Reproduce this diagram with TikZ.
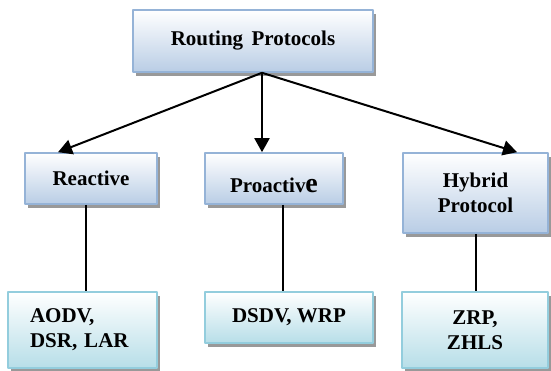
\documentclass[tikz,border=0pt]{standalone}
\usepackage{fontspec}
\setmainfont{Liberation Serif}
\usetikzlibrary{arrows.meta,shadows}
\definecolor{catline}{HTML}{95B3D7}
\definecolor{catfill}{HTML}{B9CDE5}
\definecolor{protoline}{HTML}{93CDDD}
\definecolor{protofill}{HTML}{B7DEE8}
\begin{document}
\begin{tikzpicture}[x=1pt, y=1pt, font=\fontsize{21}{25}\selectfont\bfseries, line join=round, >={Triangle[length=14pt,width=15pt]},
	catbox/.style={draw=catline, line width=1.6pt, top color=white, bottom color=catfill, drop shadow={shadow xshift=3pt, shadow yshift=-4pt, fill=black!40, opacity=1}, inner sep=0pt},
	protobox/.style={catbox, draw=protoline, bottom color=protofill},
	link/.style={line width=2pt}]
	\useasboundingbox (0,0) rectangle (551,371);
	\node[catbox, minimum width=240, minimum height=62] (root) at (253,330) {Routing\hspace{0.4em}Protocols};
	\node[catbox, minimum width=132, minimum height=51] (reac) at (91,192.5) {Reactive};
	\node[catbox, minimum width=138, minimum height=51, text height=33pt, text depth=4pt] (proa) at (274,192.5) {Proactiv{\fontsize{28}{28}\selectfont e}};
	\node[catbox, minimum width=145, minimum height=80, align=center] (hyb) at (475.5,178) {Hybrid\\Protocol};
	\node[protobox, minimum height=76, text width=105pt, inner xsep=22pt, align=left] (aodv) at (82.5,41) {AODV,\\DSR, LAR};
	\node[protobox, minimum width=168, minimum height=51] (dsdv) at (289,53.5) {DSDV, WRP};
	\node[protobox, minimum width=146, minimum height=76, align=center] (zrp) at (475,41) {ZRP,\\ZHLS};
	\coordinate (fork) at (262,0 |- root.south);
	\foreach \n/\x in {reac/58, proa/262, hyb/517}\draw[link,->] (fork) -- (\x,0 |- \n.north);
	\foreach \a/\b/\x in {reac/aodv/86, proa/dsdv/283, hyb/zrp/476}\draw[link] (\x,0 |- \a.south) -- (\x,0 |- \b.north);
\end{tikzpicture}
\end{document}
